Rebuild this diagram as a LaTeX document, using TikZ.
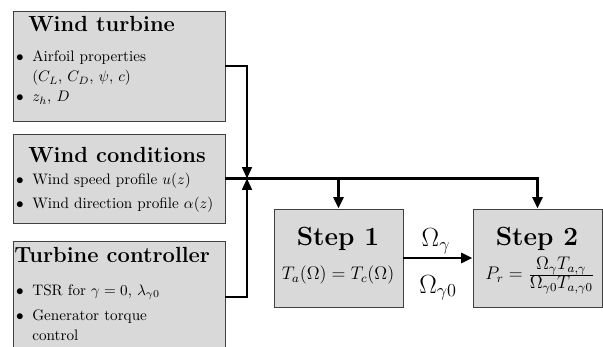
\documentclass[tikz,border=0pt]{standalone}
\usetikzlibrary{arrows.meta,fit}
\begin{document}
\begin{tikzpicture}[x=0.658pt,y=-0.658pt,
  box/.style={draw=black!75, fill=black!15, line width=0.6pt, inner sep=0pt},
  ttl/.style={anchor=base west, font=\Large\bfseries, inner sep=0pt},
  txt/.style={anchor=base west, inner sep=0pt},
  bul/.style={anchor=base, inner sep=0pt},
  stepttl/.style={anchor=base, font=\LARGE\bfseries, inner sep=0pt},
  stepeq/.style={anchor=base, font=\large, inner sep=0pt},
  omlabel/.style={anchor=base, font=\LARGE, inner sep=0pt},
  conn/.style={line width=1.3pt, -{Triangle[length=7.5pt,width=6.5pt]}},
  mainline/.style={line width=1.9pt},
  mainarrow/.style={line width=1.9pt, -{Triangle[length=7.5pt,width=6.5pt]}}]
\useasboundingbox (0,0) rectangle (603,347);
\clip (0,0) rectangle (603,347);
% boxes
\node[box, fit={(13,11) (225,121)}] (wt) {};
\node[box, fit={(13,134) (225,223)}] (wc) {};
\node[box, fit={(13,241) (225,353)}] (tc) {};
\node[box, fit={(274,209) (403,307)}] (s1) {};
\node[box, fit={(473,209) (602,307)}] (s2) {};
% wind turbine
\node[ttl] (wtt) at (28,32) {Wind turbine};
\node[bul] (wtb1) at (20,62) {$\bullet$};
\node[txt] (wtl1) at (32,62) {Airfoil properties};
\node[txt] (wtl2) at (32,82) {($C_L$, $C_D$, $\psi$, $c$)};
\node[bul] (wtb2) at (20,102) {$\bullet$};
\node[txt] (wtl3) at (32,102) {$z_h$, $D$};
% wind conditions
\node[ttl] (wct) at (28,163) {Wind conditions};
\node[bul] (wcb1) at (20,185) {$\bullet$};
\node[txt] (wcl1) at (32,185) {Wind speed profile $u(z)$};
\node[bul] (wcb2) at (20,209) {$\bullet$};
\node[txt] (wcl2) at (32,209) {Wind direction profile $\alpha(z)$};
% turbine controller
\node[ttl] (tct) at (14,263) {Turbine controller};
\node[bul] (tcb1) at (20,295) {$\bullet$};
\node[txt] (tcl1) at (32,295) {TSR for $\gamma = 0$, $\lambda_{\gamma 0}$};
\node[bul] (tcb2) at (20,321) {$\bullet$};
\node[txt] (tcl2) at (32,321) {Generator torque};
\node[txt] (tcl3) at (32,340) {control};
% steps
\node[stepttl] (s1t) at (338,246) {Step 1};
\node[stepeq] (s1e) at (338,280) {$T_a(\Omega) = T_c(\Omega)$};
\node[stepttl] (s2t) at (537,246) {Step 2};
\node[stepeq] (s2e) at (540,280) {$P_r = \frac{\textstyle\Omega_\gamma T_{a,\gamma}}{\textstyle\Omega_{\gamma 0} T_{a,\gamma 0}}$};
\node[omlabel] (og) at (436,247) {$\Omega_\gamma$};
\node[omlabel] (og0) at (438,293) {$\Omega_{\gamma 0}$};
% connectors
\coordinate (jx) at (247,0);
\coordinate (junc) at (jx |- wc.east);
\draw[conn] (wt.east) -| (junc);
\draw[conn] (tc.east) -| (junc);
\draw[mainline] (wc.east) -- (junc) -- (s1.north |- junc);
\draw[mainarrow] (s1.north |- junc) -| (s2.north);
\draw[mainarrow] (s1.north |- junc) -- (s1.north);
\draw[mainarrow] (s1.east) -- (s2.west);
\end{tikzpicture}
\end{document}
